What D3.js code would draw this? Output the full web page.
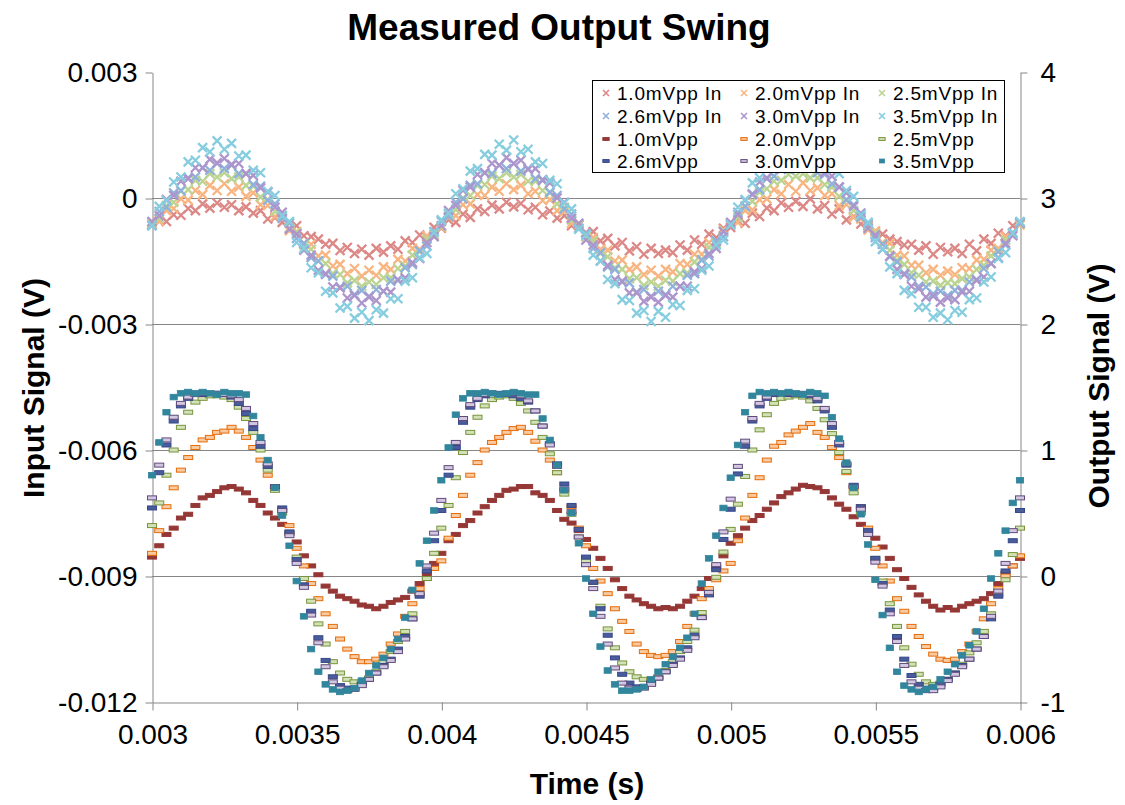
<!DOCTYPE html>
<html>
<head>
<meta charset="utf-8">
<script src="https://cdn.jsdelivr.net/npm/d3@7"></script>
<style>
  body { margin: 0; background: #fff; }
  svg text { font-family: "Liberation Sans", Arial, sans-serif; fill: #000; }
</style>
</head>
<body>
<svg id="chart" width="1125" height="805"></svg>
<script>
// Scope capture: uniform time base, one sample every 25 microseconds from 3 ms
const sampleStart = 0.003;
const sampleStep = 0.000025;

// Input signals (millivolts)
const in10 = [-0.64,-0.55,-0.56,-0.40,-0.41,-0.25,-0.30,-0.14,-0.24,-0.12,-0.22,-0.16,-0.30,-0.21,-0.36,-0.30,-0.50,-0.47,-0.58,-0.72,-0.66,-0.90,-0.92,-0.98,-1.10,-1.08,-1.25,-1.18,-1.32,-1.22,-1.36,-1.20,-1.29,-1.14,-1.22,-1.02,-1.06,-0.88,-0.92,-0.70,
  -0.72,-0.52,-0.58,-0.38,-0.46,-0.26,-0.32,-0.17,-0.26,-0.10,-0.21,-0.13,-0.28,-0.22,-0.40,-0.31,-0.48,-0.42,-0.66,-0.64,-0.82,-0.80,-1.02,-0.96,-1.14,-1.06,-1.26,-1.16,-1.34,-1.20,-1.32,-1.24,-1.30,-1.12,-1.24,-1.00,-1.10,-0.86,-0.94,-0.72,
  -0.70,-0.54,-0.60,-0.36,-0.44,-0.24,-0.30,-0.12,-0.22,-0.08,-0.20,-0.02,-0.26,-0.18,-0.38,-0.26,-0.52,-0.44,-0.62,-0.66,-0.80,-0.86,-0.98,-1.04,-1.12,-1.10,-1.24,-1.14,-1.34,-1.18,-1.28,-1.20,-1.32,-1.10,-1.26,-0.98,-1.08,-0.84,-0.90,-0.66,
  -0.62];
const in20 = [-0.60,-0.55,-0.30,-0.25,-0.02,-0.05,0.18,0.08,0.30,0.18,0.34,0.16,0.26,0.04,0.12,-0.16,-0.18,-0.44,-0.48,-0.78,-0.80,-1.08,-1.10,-1.38,-1.36,-1.62,-1.58,-1.80,-1.68,-1.86,-1.72,-1.84,-1.64,-1.70,-1.46,-1.50,-1.20,-1.22,-0.90,-0.88,
  -0.70,-0.46,-0.42,-0.16,-0.14,0.08,0.06,0.26,0.16,0.34,0.20,0.30,0.10,0.16,-0.06,-0.04,-0.30,-0.32,-0.60,-0.62,-0.92,-0.94,-1.22,-1.24,-1.50,-1.48,-1.70,-1.64,-1.82,-1.72,-1.86,-1.70,-1.76,-1.56,-1.58,-1.34,-1.34,-1.06,-1.04,-0.76,
  -0.62,-0.58,-0.30,-0.28,-0.04,-0.02,0.20,0.10,0.32,0.16,0.36,0.18,0.24,0.06,0.10,-0.18,-0.16,-0.46,-0.50,-0.76,-0.78,-1.06,-1.08,-1.36,-1.38,-1.60,-1.60,-1.78,-1.70,-1.84,-1.74,-1.82,-1.66,-1.68,-1.48,-1.46,-1.24,-1.20,-0.92,-0.86,
  -0.64];
const in25 = [-0.58,-0.48,-0.18,-0.10,0.16,0.20,0.42,0.40,0.58,0.50,0.60,0.46,0.50,0.30,0.28,0.02,-0.04,-0.32,-0.42,-0.72,-0.82,-1.12,-1.22,-1.50,-1.56,-1.80,-1.82,-2.02,-1.96,-2.10,-2.00,-2.06,-1.90,-1.90,-1.68,-1.62,-1.36,-1.28,-0.98,-0.88,
  -0.68,-0.38,-0.28,0.00,0.06,0.30,0.32,0.52,0.46,0.60,0.50,0.56,0.40,0.40,0.18,0.12,-0.14,-0.22,-0.52,-0.62,-0.92,-1.02,-1.32,-1.40,-1.66,-1.70,-1.92,-1.90,-2.08,-2.00,-2.10,-1.96,-1.98,-1.80,-1.78,-1.52,-1.46,-1.18,-1.08,-0.78,
  -0.60,-0.46,-0.20,-0.08,0.14,0.22,0.40,0.42,0.56,0.52,0.58,0.48,0.48,0.32,0.26,0.04,-0.06,-0.30,-0.44,-0.70,-0.84,-1.10,-1.24,-1.48,-1.58,-1.78,-1.84,-2.00,-1.98,-2.08,-2.02,-2.04,-1.92,-1.88,-1.70,-1.60,-1.38,-1.26,-1.00,-0.86,
  -0.62];
const in26 = [-0.66,-0.32,-0.22,0.12,0.18,0.48,0.50,0.72,0.66,0.82,0.70,0.78,0.58,0.58,0.32,0.28,-0.06,-0.14,-0.48,-0.60,-0.96,-1.08,-1.42,-1.50,-1.82,-1.86,-2.12,-2.10,-2.30,-2.20,-2.34,-2.18,-2.22,-1.98,-1.96,-1.66,-1.58,-1.26,-1.14,-0.80,
  -0.56,-0.44,-0.10,-0.02,0.30,0.34,0.60,0.58,0.78,0.70,0.82,0.64,0.70,0.46,0.44,0.14,0.06,-0.26,-0.38,-0.72,-0.84,-1.20,-1.30,-1.64,-1.70,-2.00,-2.02,-2.24,-2.18,-2.34,-2.22,-2.30,-2.10,-2.10,-1.84,-1.80,-1.48,-1.38,-1.02,-0.92,
  -0.64,-0.34,-0.20,0.10,0.20,0.46,0.52,0.70,0.68,0.80,0.72,0.76,0.60,0.56,0.34,0.26,-0.04,-0.16,-0.46,-0.62,-0.94,-1.10,-1.40,-1.52,-1.80,-1.88,-2.10,-2.12,-2.28,-2.22,-2.32,-2.20,-2.20,-2.00,-1.94,-1.68,-1.56,-1.28,-1.12,-0.82,
  -0.60];
const in30 = [-0.56,-0.42,-0.04,0.06,0.40,0.46,0.72,0.72,0.92,0.84,0.94,0.80,0.82,0.58,0.54,0.24,0.14,-0.22,-0.34,-0.74,-0.86,-1.24,-1.36,-1.72,-1.80,-2.12,-2.14,-2.38,-2.32,-2.50,-2.36,-2.44,-2.22,-2.24,-1.94,-1.90,-1.54,-1.44,-1.06,-0.92,
  -0.66,-0.30,-0.18,0.18,0.26,0.56,0.60,0.82,0.78,0.96,0.82,0.90,0.68,0.70,0.42,0.36,0.00,-0.10,-0.48,-0.60,-1.00,-1.12,-1.50,-1.60,-1.94,-1.98,-2.26,-2.26,-2.46,-2.36,-2.48,-2.32,-2.36,-2.10,-2.10,-1.76,-1.68,-1.32,-1.20,-0.80,
  -0.58,-0.40,-0.06,0.08,0.38,0.48,0.70,0.74,0.90,0.86,0.92,0.82,0.80,0.60,0.52,0.26,0.12,-0.20,-0.36,-0.72,-0.88,-1.22,-1.38,-1.70,-1.82,-2.10,-2.16,-2.36,-2.34,-2.48,-2.38,-2.42,-2.24,-2.22,-1.96,-1.88,-1.56,-1.42,-1.08,-0.90,
  -0.58];
const in35 = [-0.66,-0.20,-0.06,0.38,0.50,0.86,0.90,1.20,1.10,1.36,1.16,1.30,1.00,1.02,0.66,0.60,0.16,0.06,-0.42,-0.56,-1.06,-1.20,-1.66,-1.78,-2.22,-2.26,-2.62,-2.58,-2.86,-2.72,-2.92,-2.66,-2.74,-2.40,-2.40,-1.98,-1.90,-1.42,-1.32,-0.82,
  -0.52,-0.36,0.10,0.22,0.64,0.70,1.04,1.02,1.28,1.14,1.38,1.10,1.16,0.86,0.82,0.42,0.34,-0.12,-0.26,-0.74,-0.88,-1.36,-1.50,-1.94,-2.04,-2.42,-2.44,-2.74,-2.68,-2.94,-2.70,-2.84,-2.54,-2.56,-2.20,-2.16,-1.72,-1.62,-1.12,-1.00,
  -0.64,-0.22,-0.04,0.36,0.48,0.84,0.92,1.18,1.12,1.34,1.18,1.26,1.02,1.00,0.68,0.58,0.18,0.04,-0.40,-0.58,-1.04,-1.22,-1.64,-1.80,-2.20,-2.28,-2.60,-2.60,-2.84,-2.74,-2.90,-2.68,-2.72,-2.42,-2.38,-2.00,-1.88,-1.44,-1.30,-0.84,
  -0.56];

// Output signals (volts)
const out10 = [0.15,0.24,0.33,0.38,0.46,0.49,0.56,0.62,0.64,0.67,0.70,0.71,0.69,0.66,0.60,0.56,0.50,0.46,0.41,0.34,0.27,0.16,0.08,0.01,-0.08,-0.12,-0.16,-0.18,-0.20,-0.23,-0.24,-0.26,-0.24,-0.21,-0.19,-0.17,-0.12,-0.06,0.02,0.10,
  0.18,0.28,0.33,0.40,0.44,0.50,0.55,0.60,0.64,0.68,0.69,0.71,0.71,0.66,0.64,0.60,0.52,0.45,0.42,0.36,0.29,0.22,0.14,0.06,-0.03,-0.10,-0.16,-0.19,-0.22,-0.24,-0.26,-0.25,-0.26,-0.24,-0.20,-0.16,-0.10,-0.02,0.07,0.16,
  0.26,0.32,0.38,0.44,0.48,0.53,0.58,0.63,0.66,0.69,0.72,0.71,0.70,0.67,0.62,0.57,0.53,0.47,0.41,0.36,0.30,0.23,0.14,0.05,-0.02,-0.09,-0.15,-0.20,-0.24,-0.27,-0.25,-0.27,-0.24,-0.22,-0.20,-0.18,-0.14,-0.06,0.02,0.08,
  0.14];
const out20 = [0.18,0.36,0.55,0.70,0.84,0.94,1.02,1.08,1.10,1.14,1.15,1.18,1.15,1.10,1.02,0.92,0.80,0.70,0.52,0.40,0.22,0.08,-0.06,-0.18,-0.30,-0.40,-0.50,-0.58,-0.64,-0.68,-0.68,-0.66,-0.62,-0.54,-0.46,-0.32,-0.22,-0.10,-0.02,0.06,
  0.12,0.30,0.48,0.64,0.80,0.90,1.00,1.06,1.10,1.14,1.17,1.18,1.14,1.07,1.00,0.92,0.82,0.68,0.55,0.38,0.24,0.06,-0.04,-0.14,-0.26,-0.36,-0.44,-0.54,-0.60,-0.63,-0.64,-0.63,-0.60,-0.52,-0.40,-0.30,-0.18,-0.10,-0.03,0.04,
  0.10,0.28,0.46,0.64,0.78,0.92,1.03,1.06,1.12,1.15,1.18,1.21,1.14,1.10,1.02,0.94,0.82,0.70,0.55,0.38,0.22,0.08,-0.04,-0.18,-0.28,-0.40,-0.48,-0.56,-0.62,-0.66,-0.67,-0.66,-0.60,-0.54,-0.44,-0.34,-0.22,-0.10,0.00,0.08,
  0.16];
const out25 = [0.40,0.58,0.80,1.00,1.18,1.30,1.38,1.41,1.43,1.43,1.42,1.40,1.34,1.25,1.14,1.00,0.84,0.68,0.50,0.34,0.15,-0.02,-0.20,-0.38,-0.54,-0.68,-0.77,-0.82,-0.84,-0.84,-0.81,-0.76,-0.68,-0.60,-0.52,-0.44,-0.30,-0.14,-0.02,0.18,
  0.38,0.56,0.78,0.98,1.14,1.26,1.35,1.40,1.42,1.43,1.41,1.37,1.31,1.22,1.10,0.97,0.82,0.65,0.49,0.31,0.12,-0.05,-0.24,-0.42,-0.57,-0.69,-0.76,-0.80,-0.82,-0.82,-0.80,-0.75,-0.68,-0.60,-0.52,-0.43,-0.29,-0.13,-0.01,0.19,
  0.37,0.57,0.79,1.00,1.16,1.28,1.37,1.41,1.42,1.43,1.42,1.39,1.33,1.24,1.13,0.98,0.83,0.66,0.50,0.33,0.14,-0.04,-0.22,-0.40,-0.57,-0.70,-0.78,-0.84,-0.86,-0.85,-0.82,-0.77,-0.70,-0.61,-0.53,-0.44,-0.30,-0.15,-0.03,0.17,
  0.38];
const out26 = [0.54,0.82,1.04,1.23,1.35,1.41,1.44,1.44,1.45,1.45,1.44,1.42,1.37,1.29,1.17,1.03,0.87,0.71,0.54,0.35,0.13,-0.07,-0.28,-0.49,-0.67,-0.80,-0.87,-0.89,-0.89,-0.86,-0.82,-0.77,-0.71,-0.66,-0.58,-0.48,-0.34,-0.16,0.04,0.28,
  0.52,0.80,1.02,1.22,1.34,1.40,1.43,1.45,1.45,1.44,1.43,1.41,1.38,1.31,1.19,1.05,0.89,0.73,0.56,0.37,0.15,-0.05,-0.26,-0.47,-0.65,-0.78,-0.85,-0.88,-0.88,-0.85,-0.81,-0.76,-0.70,-0.65,-0.57,-0.47,-0.33,-0.15,0.05,0.29,
  0.53,0.81,1.03,1.23,1.35,1.41,1.44,1.45,1.44,1.44,1.44,1.43,1.39,1.31,1.18,1.04,0.88,0.72,0.55,0.36,0.14,-0.06,-0.27,-0.48,-0.66,-0.79,-0.86,-0.89,-0.89,-0.86,-0.82,-0.77,-0.71,-0.66,-0.58,-0.48,-0.34,-0.16,0.04,0.28,
  0.52];
const out30 = [0.62,0.88,1.08,1.26,1.37,1.42,1.44,1.45,1.45,1.45,1.44,1.43,1.40,1.33,1.21,1.06,0.89,0.71,0.52,0.32,0.10,-0.09,-0.31,-0.53,-0.72,-0.84,-0.89,-0.91,-0.90,-0.87,-0.82,-0.77,-0.72,-0.67,-0.60,-0.50,-0.34,-0.14,0.08,0.34,
  0.60,0.86,1.06,1.25,1.36,1.41,1.44,1.45,1.44,1.45,1.45,1.43,1.39,1.31,1.19,1.04,0.87,0.69,0.51,0.31,0.09,-0.10,-0.32,-0.54,-0.73,-0.85,-0.89,-0.90,-0.89,-0.86,-0.81,-0.76,-0.71,-0.66,-0.59,-0.49,-0.33,-0.13,0.09,0.35,
  0.61,0.87,1.07,1.25,1.37,1.42,1.45,1.45,1.45,1.44,1.45,1.44,1.41,1.33,1.21,1.06,0.89,0.71,0.53,0.33,0.11,-0.08,-0.30,-0.52,-0.71,-0.84,-0.89,-0.91,-0.91,-0.88,-0.83,-0.78,-0.72,-0.66,-0.58,-0.48,-0.32,-0.12,0.10,0.36,
  0.62];
const out35 = [0.80,1.06,1.30,1.42,1.45,1.46,1.45,1.46,1.45,1.44,1.46,1.45,1.45,1.44,1.27,1.10,0.92,0.70,0.48,0.24,-0.04,-0.32,-0.58,-0.76,-0.86,-0.90,-0.92,-0.91,-0.89,-0.83,-0.77,-0.71,-0.65,-0.58,-0.50,-0.33,-0.11,0.10,0.28,0.52,
  0.76,1.02,1.28,1.41,1.45,1.45,1.46,1.45,1.44,1.45,1.46,1.45,1.44,1.44,1.25,1.08,0.88,0.68,0.50,0.26,-0.02,-0.30,-0.56,-0.75,-0.86,-0.91,-0.91,-0.90,-0.88,-0.82,-0.76,-0.70,-0.64,-0.57,-0.49,-0.30,-0.06,0.14,0.32,0.54,
  0.78,1.04,1.30,1.43,1.46,1.45,1.46,1.45,1.46,1.45,1.44,1.46,1.45,1.43,1.26,1.09,0.90,0.70,0.49,0.25,-0.03,-0.31,-0.57,-0.76,-0.87,-0.90,-0.92,-0.90,-0.88,-0.82,-0.76,-0.70,-0.63,-0.55,-0.44,-0.26,-0.02,0.18,0.36,0.58,
  0.76];

// Axis ticks and labels
const timeTicks = [0.003, 0.0035, 0.004, 0.0045, 0.005, 0.0055, 0.006];
const timeLabels = ["0.003", "0.0035", "0.004", "0.0045", "0.005", "0.0055", "0.006"];
const inputTicks = [0.003, 0, -0.003, -0.006, -0.009, -0.012];
const inputLabels = ["0.003", "0", "-0.003", "-0.006", "-0.009", "-0.012"];
const outputTicks = [4, 3, 2, 1, 0, -1];
const outputLabels = ["4", "3", "2", "1", "0", "-1"];

// Series definitions: input traces (mV, left axis) then output traces (V, right axis)
const inputSeries = [
  { name: "1.0mVpp In", values: in10, color: "#DC8886" },
  { name: "2.0mVpp In", values: in20, color: "#F9B581" },
  { name: "2.5mVpp In", values: in25, color: "#BCD492" },
  { name: "2.6mVpp In", values: in26, color: "#8FB1DC" },
  { name: "3.0mVpp In", values: in30, color: "#AD95CC" },
  { name: "3.5mVpp In", values: in35, color: "#86CDDF" }
];
const outputSeries = [
  { name: "1.0mVpp", values: out10, stroke: "#953735", fill: "#953735", shape: "dash" },
  { name: "2.0mVpp", values: out20, stroke: "#E46C0A", fill: "#F9C9A0", shape: "dash" },
  { name: "2.5mVpp", values: out25, stroke: "#77933C", fill: "#D3E2B6", shape: "dash" },
  { name: "2.6mVpp", values: out26, stroke: "#34478A", fill: "#4A5C9A", shape: "dash" },
  { name: "3.0mVpp", values: out30, stroke: "#604A7B", fill: "#D2C7E0", shape: "dash" },
  { name: "3.5mVpp", values: out35, stroke: "#31859C", fill: "#31859C", shape: "square" }
];

const svg = d3.select("#chart");
const plot = { left: 152, right: 1020, top: 72, bottom: 702 };
const axisGrey = "#868686";

const x = d3.scaleLinear().domain([0.003, 0.006]).range([plot.left, plot.right]);
const yIn = d3.scaleLinear().domain([-0.012, 0.003]).range([plot.bottom, plot.top]);
const yOut = d3.scaleLinear().domain([-1, 4]).range([plot.bottom, plot.top]);
const timeAt = i => sampleStart + i * sampleStep;

// Horizontal gridlines at the input-axis ticks
svg.append("g").selectAll("line")
  .data(inputTicks.filter(v => v > -0.012 && v < 0.003))
  .join("line")
  .attr("x1", plot.left).attr("x2", plot.right)
  .attr("y1", d => Math.round(yIn(d)) + 0.5).attr("y2", d => Math.round(yIn(d)) + 0.5)
  .attr("stroke", axisGrey).attr("stroke-width", 1);

function styleAxis(g, size) {
  g.select(".domain").attr("stroke", axisGrey);
  g.selectAll(".tick line").attr("stroke", axisGrey);
  g.selectAll(".tick text").attr("font-size", size).attr("fill", "#000")
    .style("font-family", '"Liberation Sans", Arial, sans-serif');
}

const gx = svg.append("g")
  .attr("transform", `translate(0.5,${plot.bottom + 0.5})`)
  .call(d3.axisBottom(x).tickValues(timeTicks).tickFormat((d, i) => timeLabels[i])
    .tickSizeInner(8).tickSizeOuter(0).tickPadding(14));
styleAxis(gx, 28);

const gl = svg.append("g")
  .attr("transform", `translate(${plot.left + 0.5},0.5)`)
  .call(d3.axisLeft(yIn).tickValues(inputTicks).tickFormat((d, i) => inputLabels[i])
    .tickSizeInner(7).tickSizeOuter(0).tickPadding(8));
styleAxis(gl, 28);

const gr = svg.append("g")
  .attr("transform", `translate(${plot.right + 0.5},0.5)`)
  .call(d3.axisRight(yOut).tickValues(outputTicks).tickFormat((d, i) => outputLabels[i])
    .tickSizeInner(7).tickSizeOuter(0).tickPadding(13));
styleAxis(gr, 28);

// Marker shapes
const crossPath = "M-4.5,-4.5L4.5,4.5M-4.5,4.5L4.5,-4.5";

function drawOutputMarker(sel, s, scale) {
  const k = scale || 1;
  if (s.shape === "square") {
    sel.append("rect").attr("x", -3.6 * k).attr("y", -2.8 * k).attr("width", 7.2 * k).attr("height", 5.6 * k)
      .attr("fill", s.fill).attr("stroke", s.stroke).attr("stroke-width", 0.8);
  } else {
    sel.append("rect").attr("x", -4.5 * k).attr("y", -2 * k).attr("width", 9 * k).attr("height", 4 * k)
      .attr("fill", s.fill).attr("stroke", s.stroke).attr("stroke-width", 1);
  }
}

// Input traces
inputSeries.forEach(s => {
  svg.append("g").selectAll("path")
    .data(s.values)
    .join("path")
    .attr("d", crossPath)
    .attr("transform", (v, i) => `translate(${x(timeAt(i))},${yIn(v / 1000)})`)
    .attr("stroke", s.color).attr("stroke-width", 2.3).attr("fill", "none");
});

// Output traces
outputSeries.forEach(s => {
  const g = svg.append("g");
  s.values.forEach((v, i) => {
    const m = g.append("g").attr("transform", `translate(${x(timeAt(i))},${yOut(v)})`);
    drawOutputMarker(m, s, 1);
  });
});

// Legend
const legend = svg.append("g");
legend.append("rect").attr("x", 592.5).attr("y", 80.5).attr("width", 412).attr("height", 92)
  .attr("fill", "#fff").attr("stroke", "#000").attr("stroke-width", 1);
const colX = [617, 755, 893];
const rowY = [93, 116, 139, 161];
const legendItems = [
  ...inputSeries.map(s => ({ name: s.name, kind: "in", s })),
  ...outputSeries.map(s => ({ name: s.name, kind: "out", s }))
];
legendItems.forEach((it, idx) => {
  const cx = colX[idx % 3], cy = rowY[Math.floor(idx / 3)];
  const m = legend.append("g").attr("transform", `translate(${cx - 11},${cy})`);
  if (it.kind === "in") {
    m.append("path").attr("d", "M-3,-3L3,3M-3,3L3,-3")
      .attr("stroke", it.s.color).attr("stroke-width", 1.6).attr("fill", "none");
  } else {
    drawOutputMarker(m, it.s, 0.7);
  }
  legend.append("text").attr("x", cx).attr("y", cy).attr("dy", "0.35em")
    .attr("font-size", 19).attr("letter-spacing", 0.8).text(it.name);
});

// Titles
svg.append("text").attr("x", 559).attr("y", 40).attr("text-anchor", "middle")
  .attr("font-size", 37).attr("font-weight", "bold").text("Measured Output Swing");
svg.append("text").attr("x", 587).attr("y", 794).attr("text-anchor", "middle")
  .attr("font-size", 30).attr("font-weight", "bold").text("Time (s)");
svg.append("text").attr("transform", "translate(44,388) rotate(-90)").attr("text-anchor", "middle")
  .attr("font-size", 30).attr("font-weight", "bold").text("Input Signal (V)");
svg.append("text").attr("transform", "translate(1109,386) rotate(-90)").attr("text-anchor", "middle")
  .attr("font-size", 30).attr("font-weight", "bold").text("Output Signal (V)");
</script>
</body>
</html>
